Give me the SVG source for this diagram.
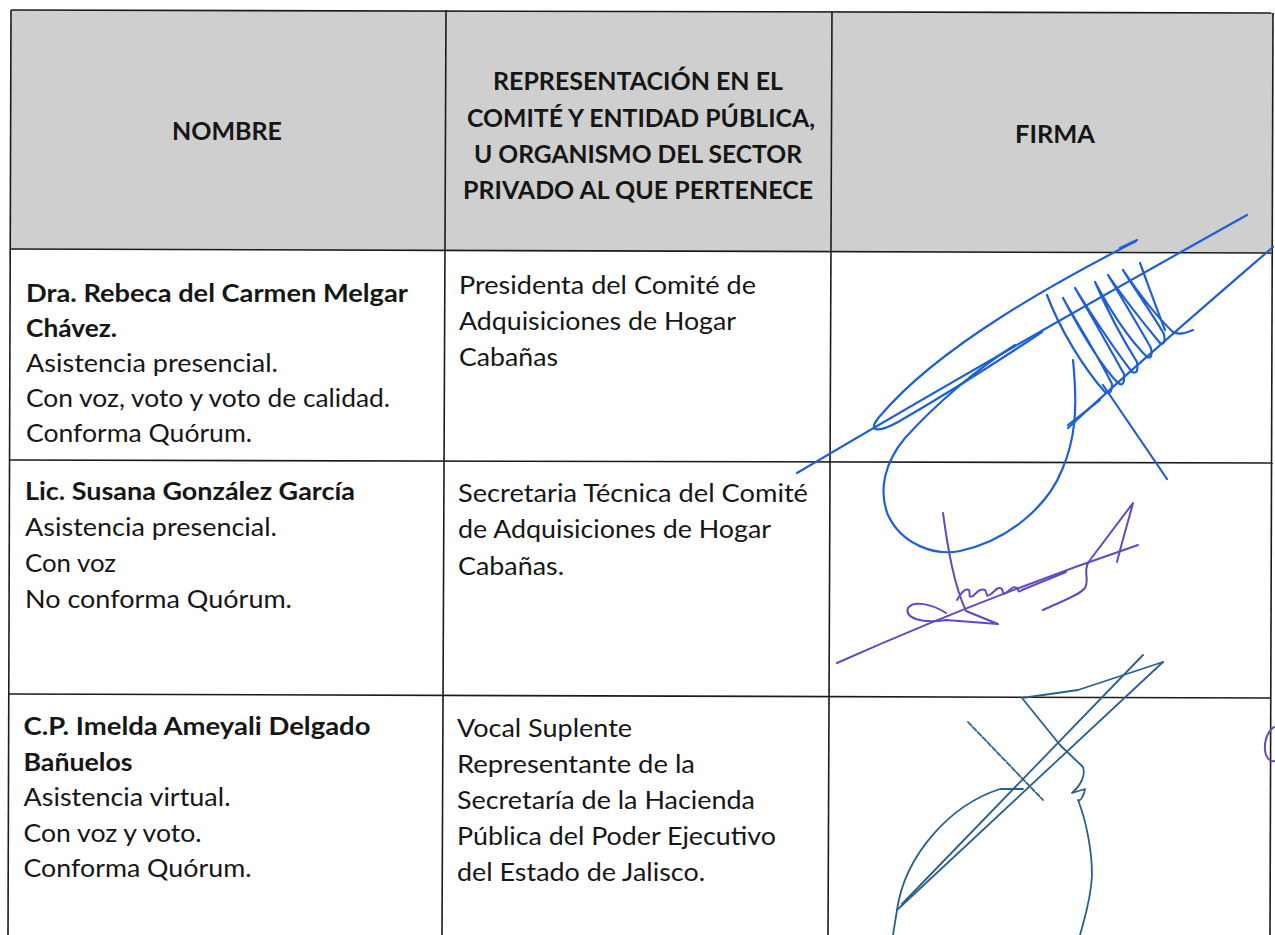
<svg xmlns="http://www.w3.org/2000/svg" width="1275" height="935" viewBox="0 0 1275 935">
<style>
.t{font-family:Lato,"Open Sans","Liberation Sans",sans-serif;fill:#161616}
.h{font-size:25.5px;font-weight:700;text-anchor:middle}
.b{font-size:24.5px}
.bb{font-size:24.5px;font-weight:700}
.grid line{stroke:#1c1c1c;stroke-width:1.6}
.s1{fill:none;stroke:#1e5fd4;stroke-width:2.2;stroke-linecap:round;stroke-linejoin:round}
.s2{fill:none;stroke:#5a4cc4;stroke-width:2;stroke-linecap:round;stroke-linejoin:round}
.s3{fill:none;stroke:#2a5f8c;stroke-width:1.8;stroke-linecap:round;stroke-linejoin:round}
</style>
<rect width="1275" height="935" fill="#ffffff"/>
<polygon points="11,10 1273,13 1273,253 10,249" fill="#cfcfcf"/>
<g id="grid" class="grid">
<line x1="11" y1="10" x2="1273" y2="13"/>
<line x1="10" y1="249" x2="1273" y2="253"/>
<line x1="10" y1="460" x2="1273" y2="463"/>
<line x1="9" y1="694" x2="1271" y2="698"/>
<line x1="11" y1="10" x2="8" y2="935"/>
<line x1="446" y1="10" x2="442" y2="935"/>
<line x1="832" y1="12" x2="828" y2="935"/>
<line x1="1273" y1="13" x2="1270" y2="935"/>
</g>
<g id="header-nombre"><text class="t h" x="227" y="140" textLength="110" lengthAdjust="spacingAndGlyphs">NOMBRE</text></g>
<g id="header-representacion">
<text class="t h" x="638" y="90" textLength="290" lengthAdjust="spacingAndGlyphs">REPRESENTACIÓN EN EL</text>
<text class="t h" x="641" y="126.5" textLength="348" lengthAdjust="spacingAndGlyphs">COMITÉ Y ENTIDAD PÚBLICA,</text>
<text class="t h" x="638" y="163" textLength="328" lengthAdjust="spacingAndGlyphs">U ORGANISMO DEL SECTOR</text>
<text class="t h" x="638" y="199" textLength="350" lengthAdjust="spacingAndGlyphs">PRIVADO AL QUE PERTENECE</text>
</g>
<g id="header-firma"><text class="t h" x="1055" y="143" textLength="80" lengthAdjust="spacingAndGlyphs">FIRMA</text></g>
<g id="row1-nombre">
<text class="t bb" x="26" y="301.5" textLength="382" lengthAdjust="spacingAndGlyphs">Dra. Rebeca del Carmen Melgar</text>
<text class="t bb" x="26" y="336.5" textLength="91" lengthAdjust="spacingAndGlyphs">Chávez.</text>
<text class="t b" x="26" y="371.5" textLength="252" lengthAdjust="spacingAndGlyphs">Asistencia presencial.</text>
<text class="t b" x="26" y="406.5" textLength="364" lengthAdjust="spacingAndGlyphs">Con voz, voto y voto de calidad.</text>
<text class="t b" x="26" y="441.5" textLength="226" lengthAdjust="spacingAndGlyphs">Conforma Quórum.</text>
</g>
<g id="row1-representacion">
<text class="t b" x="459" y="293.5" textLength="297" lengthAdjust="spacingAndGlyphs">Presidenta del Comité de</text>
<text class="t b" x="459" y="330" textLength="277" lengthAdjust="spacingAndGlyphs">Adquisiciones de Hogar</text>
<text class="t b" x="459" y="366" textLength="99" lengthAdjust="spacingAndGlyphs">Cabañas</text>
</g>
<g id="row2-nombre">
<text class="t bb" x="25" y="500" textLength="330" lengthAdjust="spacingAndGlyphs">Lic. Susana González García</text>
<text class="t b" x="25" y="535.5" textLength="252" lengthAdjust="spacingAndGlyphs">Asistencia presencial.</text>
<text class="t b" x="25" y="571.5" textLength="91" lengthAdjust="spacingAndGlyphs">Con voz</text>
<text class="t b" x="25" y="608" textLength="267" lengthAdjust="spacingAndGlyphs">No conforma Quórum.</text>
</g>
<g id="row2-representacion">
<text class="t b" x="458" y="501.5" textLength="350" lengthAdjust="spacingAndGlyphs">Secretaria Técnica del Comité</text>
<text class="t b" x="458" y="538" textLength="313" lengthAdjust="spacingAndGlyphs">de Adquisiciones de Hogar</text>
<text class="t b" x="458" y="575" textLength="106" lengthAdjust="spacingAndGlyphs">Cabañas.</text>
</g>
<g id="row3-nombre">
<text class="t bb" x="23.5" y="735" textLength="347" lengthAdjust="spacingAndGlyphs">C.P. Imelda Ameyali Delgado</text>
<text class="t bb" x="23.5" y="770.5" textLength="109" lengthAdjust="spacingAndGlyphs">Bañuelos</text>
<text class="t b" x="23.5" y="806" textLength="207" lengthAdjust="spacingAndGlyphs">Asistencia virtual.</text>
<text class="t b" x="23.5" y="841.5" textLength="178" lengthAdjust="spacingAndGlyphs">Con voz y voto.</text>
<text class="t b" x="23.5" y="876.5" textLength="228" lengthAdjust="spacingAndGlyphs">Conforma Quórum.</text>
</g>
<g id="row3-representacion">
<text class="t b" x="457" y="736.5" textLength="175" lengthAdjust="spacingAndGlyphs">Vocal Suplente</text>
<text class="t b" x="457" y="773" textLength="238" lengthAdjust="spacingAndGlyphs">Representante de la</text>
<text class="t b" x="457" y="809" textLength="298" lengthAdjust="spacingAndGlyphs">Secretaría de la Hacienda</text>
<text class="t b" x="457" y="845" textLength="319" lengthAdjust="spacingAndGlyphs">Pública del Poder Ejecutivo</text>
<text class="t b" x="457" y="880.5" textLength="248" lengthAdjust="spacingAndGlyphs">del Estado de Jalisco.</text>
</g>
<g id="firma-1">
<path class="s1" d="M797,473 C900,412 1050,325 1247,215" stroke-width="2.6"/>
<path class="s1" d="M1136,241 C1060,280 940,345 880,416 C866,432 878,433 898,422 C950,392 1000,360 1042,332"/>
<path class="s1" d="M1120,248 L1137,240" stroke-width="4"/>
<path class="s1" d="M1015,345 C975,370 935,405 905,438 C885,462 878,490 888,515 C902,545 935,556 960,551 C1010,540 1048,505 1062,470 C1075,440 1078,410 1073,360"/>
<path class="s1" d="M1047,295 C1060,330 1085,370 1105,392 Q1112,396 1112,384 C1095,350 1075,320 1063,298 C1080,330 1100,365 1118,383 Q1125,388 1124,374 C1105,340 1088,310 1075,288 C1095,320 1115,350 1132,372 Q1139,375 1137,362 C1120,335 1105,305 1095,282 C1110,310 1130,340 1147,357 Q1153,360 1151,348 C1135,320 1120,295 1108,275 C1125,300 1145,325 1160,343 Q1166,346 1164,334 C1150,310 1135,290 1123,270 C1140,295 1158,318 1173,332 Q1180,336 1193,330"/>
<path class="s1" d="M1140,263 C1150,290 1158,312 1165,330" stroke-width="1.8"/>
<path class="s1" d="M1273,247 C1200,310 1130,370 1068,428" stroke-width="1.6"/>
<path class="s1" d="M1068,425 L1100,400" stroke-width="1.6"/>
<path class="s1" d="M1103,385 L1167,479" stroke-width="1.5"/>
</g>
<g id="firma-2">
<path class="s2" d="M837,663 C900,635 1000,592 1138,545"/>
<path class="s2" d="M943,513 C948,550 954,585 966,611 L998,624 L946,620 C922,624 904,618 908,608 C913,600 932,604 946,613"/>
<path class="s2" d="M957,600 c5,-8 8,-12 12,-10 c2,5 -2,8 4,6 c5,-5 8,-8 12,-6 c3,4 0,8 6,4 c5,-4 7,-8 11,-5 c2,4 0,7 5,3 c4,-3 6,-6 10,-4 c2,3 1,5 5,2 L1066,572" stroke-width="1.6"/>
<path class="s2" d="M1043,610 C1060,602 1078,596 1085,588 C1090,580 1082,570 1090,560 L1133,503 C1128,522 1122,542 1117,562"/>
<path class="s2" d="M1274,727 C1266,733 1263,745 1266,755 C1268,760 1272,762 1275,761"/>
</g>
<g id="firma-3">
<path class="s3" d="M1163,662 L1078,690 L1022,698 L1060,745 L1083,767 C1086,776 1080,786 1072,793 L1085,789 C1084,796 1080,802 1078,800 C1086,820 1092,850 1092,875 C1091,900 1084,920 1080,935"/>
<path class="s3" d="M1163,662 L897,910"/>
<path class="s3" d="M1143,655 L902,904" stroke-width="1.4"/>
<path class="s3" d="M897,910 C905,855 950,805 1000,789 L1023,789"/>
<path class="s3" d="M968,722 L1043,800" stroke-dasharray="5,2"/>
<path class="s3" d="M897,910 L893,935"/>
</g>
</svg>
